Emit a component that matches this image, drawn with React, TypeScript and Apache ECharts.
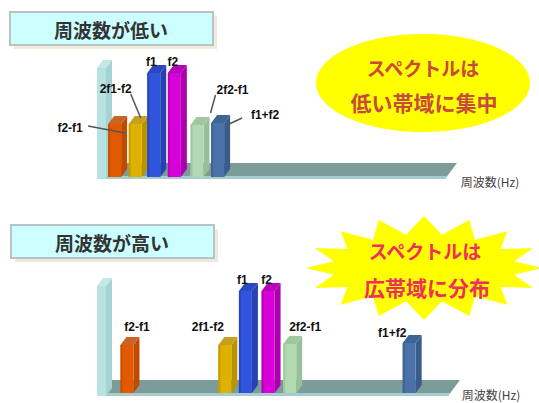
import React, { useEffect, useRef } from "react";
import * as echarts from "echarts";

// ---------- data ----------
const barLabels = ["f2-f1", "2f1-f2", "f1", "f2", "2f2-f1", "f1+f2"];
const lowPositions = [1, 2, 2.9, 3.9, 5, 6];
const lowValues = [5.3, 5.3, 10.4, 10.4, 5.2, 5.4];
const highPositions = [1.6, 6.35, 7.35, 8.45, 9.5, 15.3];
const highValues = [4.8, 4.8, 10.2, 10.2, 4.9, 5.0];
const titleLow = "周波数が低い";
const titleHigh = "周波数が高い";
const axisName = "周波数(Hz)";
const noteLow = ["スペクトルは", "低い帯域に集中"];
const noteHigh = ["スペクトルは", "広帯域に分布"];

// ---------- styles ----------
const frontColors = ["#e25a00", "#deb000", "#3055dc", "#d800d8", "#b2dab2", "#4a72a8"];
const sideColors = ["#c04a00", "#bb9200", "#2442b0", "#ac00ac", "#98c098", "#3a5c8a"];
const topColors = ["#c86428", "#c8a020", "#2a48c0", "#b800b8", "#a0c8a0", "#3e6496"];
const lowLabelOffsets = [[-44.5, 12], [-19.5, -27], [-2.5, -3], [-1.5, -3], [35.5, -27], [47.5, 0]];
const highLabelOffsets = [[10, -10], [-17, -10], [-3, -3], [-1.5, -3], [15.5, -9], [-17, -2]];
const lowLeaders: (number[] | null)[] = [[-26.5, 10, 10.5, 17], [-4.5, -22, 5.5, 2], null, null, [18.5, -22, 13.5, -4], [24.5, 3, 11.5, 9]];
const highLeaders: (number[] | null)[] = [null, null, null, null, null, null];

const JP = '"Noto Sans CJK JP", sans-serif';

function makeRender(labelOffsets: number[][], leaders: (number[] | null)[]) {
  return (params: any, api: any) => {
    const i = params.dataIndex;
    const pos = api.value(0);
    const val = api.value(1);
    const base = api.coord([pos, 0]);
    const top = api.coord([pos, val]);
    const w = 13, dx = 6, dy = 8;
    const x0 = base[0] - w / 2;
    const yb = base[1];
    const yt = top[1];
    const ax = base[0];
    const ay = yt - dy;
    const children: any[] = [
      {
        type: "polygon",
        shape: { points: [[x0 + w, yt], [x0 + w + dx, yt - dy], [x0 + w + dx, yb - dy], [x0 + w, yb]] },
        style: { fill: sideColors[i] },
      },
      {
        type: "rect",
        shape: { x: x0, y: yt, width: w, height: yb - yt },
        style: { fill: frontColors[i] },
      },
      {
        type: "rect",
        shape: { x: x0, y: yt, width: 2, height: yb - yt },
        style: { fill: sideColors[i], opacity: 0.7 },
      },
      {
        type: "polygon",
        shape: { points: [[x0, yt], [x0 + dx, yt - dy], [x0 + w + dx, yt - dy], [x0 + w, yt]] },
        style: { fill: topColors[i] },
      },
    ];
    const ld = leaders[i];
    if (ld) {
      children.push({
        type: "line",
        shape: { x1: ax + ld[0], y1: ay + ld[1], x2: ax + ld[2], y2: ay + ld[3] },
        style: { stroke: "#555", lineWidth: 1.5 },
        z2: 10,
      });
    }
    const off = labelOffsets[i];
    children.push({
      type: "text",
      style: {
        text: barLabels[i],
        x: ax + off[0],
        y: ay + off[1],
        align: "center",
        verticalAlign: "middle",
        fontSize: 12,
        fontWeight: "bold",
        fontFamily: '"Liberation Sans", Arial, sans-serif',
        fill: "#111",
      },
      z2: 20,
    });
    return { type: "group", children };
  };
}

function box3d(x: number, yTop: number, yBot: number, w: number, dx: number, dy: number, front: string, side: string, topC: string, z: number) {
  return [
    { type: "polygon", z, shape: { points: [[x + w, yTop], [x + w + dx, yTop - dy], [x + w + dx, yBot - dy], [x + w, yBot]] }, style: { fill: side } },
    { type: "rect", z, shape: { x, y: yTop, width: w, height: yBot - yTop }, style: { fill: front } },
    { type: "polygon", z, shape: { points: [[x, yTop], [x + dx, yTop - dy], [x + w + dx, yTop - dy], [x + w, yTop]] }, style: { fill: topC } },
  ];
}

function floor(yTop: number, yBot: number, xl: number, xr: number) {
  return [
    { type: "polygon", z: 0, shape: { points: [[xl, yBot], [xr, yBot], [xr + 12, yTop], [xl + 8, yTop]] }, style: { fill: "#7c9c9a" } },
    { type: "polygon", z: 0, shape: { points: [[xl, yBot], [xr, yBot], [xr + 2, yBot - 3], [xl, yBot - 3]] }, style: { fill: "#a6cccc" } },
  ];
}

function titleBox(x: number, y: number, text: string) {
  return [
    { type: "rect", z: 0, shape: { x: x + 4, y: y + 4, width: 203, height: 33 }, style: { fill: "#eeeadc" } },
    { type: "rect", z: 0, shape: { x, y, width: 203, height: 33 }, style: { fill: "#ccffff", stroke: "#b8c4c4", lineWidth: 2 } },
    {
      type: "text", z: 1,
      style: { text, x: x + 101, y: y + 17, align: "center", verticalAlign: "middle", fontSize: 19, fontWeight: "bold", fontFamily: JP, fill: "#333" },
    },
  ];
}

function starPoints(cx: number, cy: number, n: number, rxo: number, ryo: number, rxi: number, ryi: number) {
  const pts: number[][] = [];
  for (let k = 0; k < n * 2; k++) {
    const a = -Math.PI / 2 + (k * Math.PI) / n;
    const outer = k % 2 === 0;
    pts.push([cx + Math.cos(a) * (outer ? rxo : rxi), cy + Math.sin(a) * (outer ? ryo : ryi)]);
  }
  return pts;
}

function noteText(x: number, y: number, text: string, size: number, color: string) {
  return {
    type: "text", z: 2,
    style: { text, x, y, align: "center", verticalAlign: "middle", fontSize: size, fontWeight: "bold", fontFamily: JP, fill: color },
  };
}

export default function App() {
  const ref = useRef<HTMLDivElement>(null);
  useEffect(() => {
    if (!ref.current) return;
    const chart = echarts.init(ref.current, null, { renderer: "svg" });
    const unit = 20.6;
    const xMax = 18;
    const graphic: any[] = [
      ...titleBox(10, 12, titleLow),
      ...titleBox(11, 225, titleHigh),
      ...floor(163, 179, 100, 445),
      ...floor(380, 396, 100, 448),
      ...box3d(97, 68, 179, 9, 6, 8, "#b6e2e2", "#a6d2d2", "#c2e8e8", 1),
      ...box3d(97, 286, 396, 9, 6, 8, "#b6e2e2", "#a6d2d2", "#c2e8e8", 1),
      { type: "ellipse", z: 1, shape: { cx: 423, cy: 83, rx: 107, ry: 49 }, style: { fill: "#ffff00" } },
      noteText(423, 67, noteLow[0], 19, "#c84a3c"),
      noteText(424, 102, noteLow[1], 21, "#c84a3c"),
      { type: "polygon", z: 1, shape: { points: starPoints(424, 268, 16, 118, 52, 92, 34) }, style: { fill: "#ffff00" } },
      noteText(425, 250, noteHigh[0], 19, "#f0305a"),
      noteText(427, 287, noteHigh[1], 21, "#f0305a"),
      { type: "text", z: 1, style: { text: axisName, x: 490, y: 181, align: "center", verticalAlign: "middle", fontSize: 12, fontFamily: JP, fill: "#444" } },
      { type: "text", z: 1, style: { text: axisName, x: 491, y: 394, align: "center", verticalAlign: "middle", fontSize: 12, fontFamily: JP, fill: "#444" } },
    ];
    chart.setOption({
      animation: false,
      graphic,
      grid: [
        { left: 94, top: 57, width: unit * xMax, height: 120 },
        { left: 94, top: 273, width: unit * xMax, height: 120 },
      ],
      xAxis: [
        { type: "value", gridIndex: 0, min: 0, max: xMax, show: false },
        { type: "value", gridIndex: 1, min: 0, max: xMax, show: false },
      ],
      yAxis: [
        { type: "value", gridIndex: 0, min: 0, max: 12, show: false },
        { type: "value", gridIndex: 1, min: 0, max: 12, show: false },
      ],
      series: [
        {
          type: "custom",
          xAxisIndex: 0,
          yAxisIndex: 0,
          z: 5,
          renderItem: makeRender(lowLabelOffsets, lowLeaders),
          data: lowPositions.map((p, i) => [p, lowValues[i]]),
        },
        {
          type: "custom",
          xAxisIndex: 1,
          yAxisIndex: 1,
          z: 5,
          renderItem: makeRender(highLabelOffsets, highLeaders),
          data: highPositions.map((p, i) => [p, highValues[i]]),
        },
      ],
    });
    return () => chart.dispose();
  }, []);
  return (
    <div
      ref={ref}
      style={{ position: "absolute", left: 0, top: 0, width: 539, height: 403, background: "#fff" }}
    />
  );
}
